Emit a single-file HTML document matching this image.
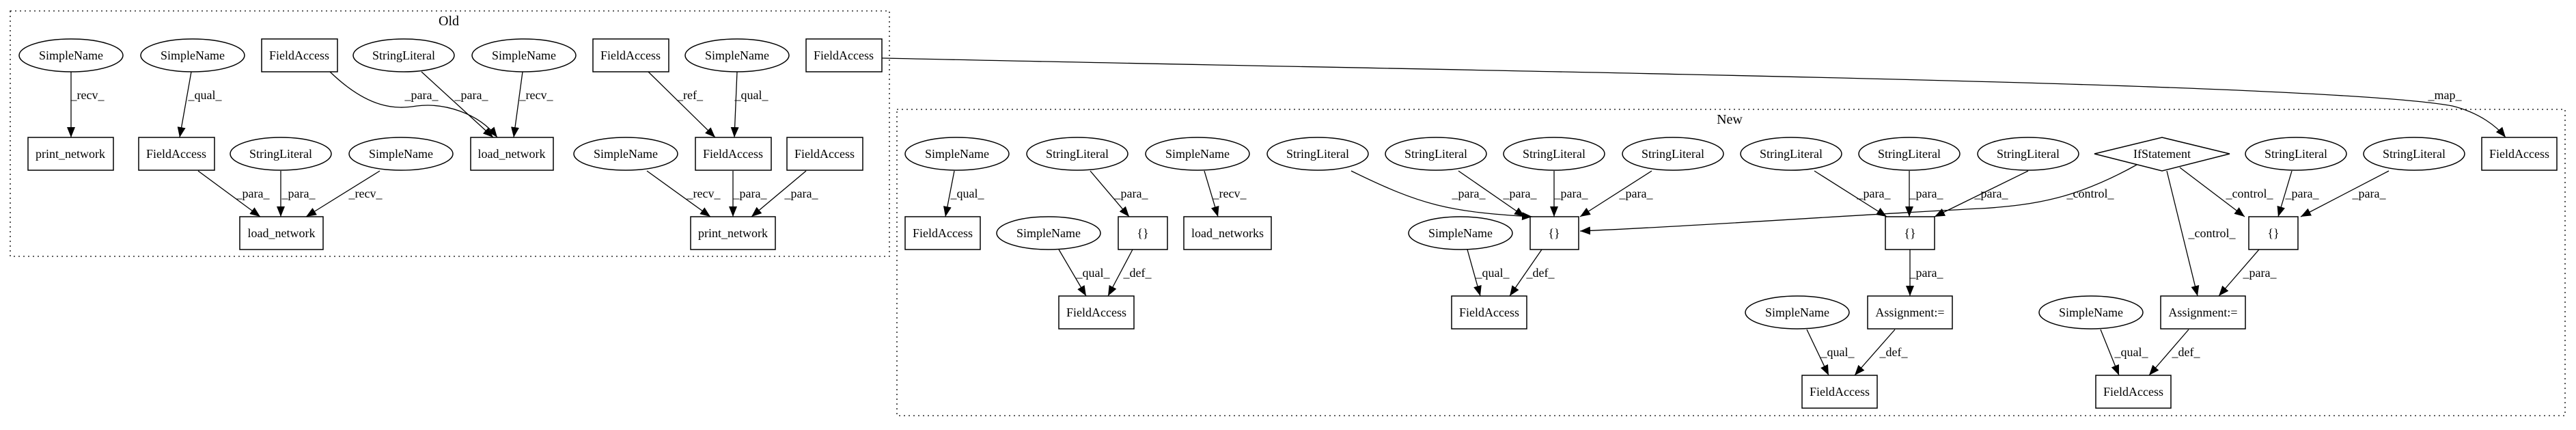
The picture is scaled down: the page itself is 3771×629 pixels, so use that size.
<!DOCTYPE html>
<html><head><meta charset="utf-8"><style>
html,body{margin:0;padding:0;background:#fff}
svg text{font-family:"Liberation Serif",serif;font-size:18px;fill:#000}
</style></head><body>
<svg width="3771" height="624" viewBox="0 0 3771 624" xmlns="http://www.w3.org/2000/svg">
<defs><marker id="a" markerUnits="userSpaceOnUse" markerWidth="16" markerHeight="12" refX="15" refY="6" orient="auto"><path d="M0,0 L15,6 L0,12 z" fill="#000"/></marker></defs>
<g fill="none" stroke="#000" stroke-width="1.3" stroke-dasharray="2,5">
<rect x="15" y="16" width="1287" height="359"/>
<rect x="1313" y="160" width="2442" height="448"/>
</g>
<g font-size="20"><text x="657" y="37" text-anchor="middle" style="font-size:20px">Old</text><text x="2532" y="181" text-anchor="middle" style="font-size:20px">New</text></g>
<g fill="#fff" stroke="#000" stroke-width="1.5">
<!-- old row1 -->
<ellipse cx="104" cy="81" rx="76" ry="24"/><ellipse cx="282" cy="81" rx="76" ry="24"/>
<rect x="383" y="57" width="111" height="48"/>
<ellipse cx="591" cy="81" rx="74" ry="24"/><ellipse cx="767" cy="81" rx="76" ry="24"/>
<rect x="868" y="57" width="111" height="48"/>
<ellipse cx="1079" cy="81" rx="76" ry="24"/>
<rect x="1180" y="57" width="111" height="48"/>
<!-- old row2 -->
<rect x="41" y="201" width="125" height="48"/><rect x="203" y="201" width="111" height="48"/>
<ellipse cx="411" cy="225" rx="74" ry="24"/><ellipse cx="587" cy="225" rx="76" ry="24"/>
<rect x="689" y="201" width="121" height="48"/>
<ellipse cx="916" cy="225" rx="76" ry="24"/>
<rect x="1018" y="201" width="111" height="48"/><rect x="1152" y="201" width="111" height="48"/>
<rect x="351" y="317" width="122" height="48"/><rect x="1011" y="317" width="124" height="48"/>
<!-- new row2 -->
<ellipse cx="1401" cy="225" rx="76" ry="24"/><ellipse cx="1577" cy="225" rx="74" ry="24"/>
<ellipse cx="1753" cy="225" rx="76" ry="24"/><ellipse cx="1929" cy="225" rx="74" ry="24"/>
<ellipse cx="2102" cy="225" rx="74" ry="24"/><ellipse cx="2275" cy="225" rx="74" ry="24"/>
<ellipse cx="2449" cy="225" rx="74" ry="24"/><ellipse cx="2622" cy="225" rx="74" ry="24"/>
<ellipse cx="2795" cy="225" rx="74" ry="24"/><ellipse cx="2969" cy="225" rx="74" ry="24"/>
<polygon points="3066,225 3165,201 3264,225 3165,250"/>
<ellipse cx="3361" cy="225" rx="74" ry="24"/><ellipse cx="3534" cy="225" rx="74" ry="24"/>
<rect x="3633" y="201" width="110" height="48"/>
<!-- new row3 -->
<rect x="1325" y="317" width="110" height="48"/><ellipse cx="1535" cy="341" rx="76" ry="24"/>
<rect x="1637" y="317" width="72" height="48"/><rect x="1733" y="317" width="128" height="48"/>
<ellipse cx="2138" cy="341" rx="76" ry="24"/><rect x="2240" y="317" width="71" height="48"/>
<rect x="2760" y="317" width="72" height="48"/><rect x="3292" y="317" width="72" height="48"/>
<!-- row4 -->
<rect x="1550" y="433" width="110" height="48"/><rect x="2125" y="433" width="110" height="48"/>
<ellipse cx="2631" cy="457" rx="76" ry="24"/><rect x="2734" y="433" width="124" height="48"/>
<ellipse cx="3061" cy="457" rx="76" ry="24"/><rect x="3163" y="433" width="124" height="48"/>
<!-- row5 -->
<rect x="2638" y="549" width="110" height="48"/><rect x="3068" y="549" width="110" height="48"/>
</g>
<g text-anchor="middle">
<text x="104" y="87">SimpleName</text><text x="282" y="87">SimpleName</text><text x="438" y="87">FieldAccess</text>
<text x="591" y="87">StringLiteral</text><text x="767" y="87">SimpleName</text><text x="923" y="87">FieldAccess</text>
<text x="1079" y="87">SimpleName</text><text x="1235" y="87">FieldAccess</text>
<text x="103" y="231">print_network</text><text x="258" y="231">FieldAccess</text><text x="411" y="231">StringLiteral</text>
<text x="587" y="231">SimpleName</text><text x="749" y="231">load_network</text><text x="916" y="231">SimpleName</text>
<text x="1073" y="231">FieldAccess</text><text x="1207" y="231">FieldAccess</text>
<text x="412" y="347">load_network</text><text x="1073" y="347">print_network</text>
<text x="1401" y="231">SimpleName</text><text x="1577" y="231">StringLiteral</text><text x="1753" y="231">SimpleName</text>
<text x="1929" y="231">StringLiteral</text><text x="2102" y="231">StringLiteral</text><text x="2275" y="231">StringLiteral</text>
<text x="2449" y="231">StringLiteral</text><text x="2622" y="231">StringLiteral</text><text x="2795" y="231">StringLiteral</text>
<text x="2969" y="231">StringLiteral</text><text x="3165" y="231">IfStatement</text><text x="3361" y="231">StringLiteral</text>
<text x="3534" y="231">StringLiteral</text><text x="3688" y="231">FieldAccess</text>
<text x="1380" y="347">FieldAccess</text><text x="1535" y="347">SimpleName</text><text x="1673" y="347">{}</text>
<text x="1797" y="347">load_networks</text><text x="2138" y="347">SimpleName</text><text x="2275" y="347">{}</text>
<text x="2796" y="347">{}</text><text x="3328" y="347">{}</text>
<text x="1605" y="463">FieldAccess</text><text x="2180" y="463">FieldAccess</text><text x="2631" y="463">SimpleName</text>
<text x="2796" y="463">Assignment:=</text><text x="3061" y="463">SimpleName</text><text x="3225" y="463">Assignment:=</text>
<text x="2693" y="579">FieldAccess</text><text x="3123" y="579">FieldAccess</text>
</g>
<g fill="none" stroke="#000" stroke-width="1.3" marker-end="url(#a)">
<path d="M104,105 L104,201"/><path d="M280,105 L263,201"/>
<path d="M483,105 C540,160 580,160 610,155 C650,150 700,165 728,201"/>
<path d="M617,105 L722,201"/><path d="M765,105 L752,201"/>
<path d="M949,105 L1047,201"/><path d="M1079,105 L1075,201"/>
<path d="M290,250 L381,317"/><path d="M411,250 L411,317"/><path d="M556,250 L448,317"/>
<path d="M947,250 L1040,317"/><path d="M1073,250 L1073,317"/><path d="M1180,250 L1100,317"/>
<path d="M1291,85 C2200,105 3400,120 3590,155 C3630,165 3655,185 3668,201"/>
<path d="M1397,250 L1384,317"/><path d="M1596,250 L1653,317"/><path d="M1763,250 L1783,317"/>
<path d="M1550,365 L1590,433"/><path d="M1658,365 L1622,433"/>
<path d="M1978,250 C2080,300 2120,310 2243,317"/>
<path d="M2135,250 L2232,317"/><path d="M2275,250 L2275,317"/><path d="M2418,250 L2313,317"/>
<path d="M3128,241 C3040,290 2980,300 2900,305 C2700,315 2500,330 2313,338"/>
<path d="M2148,365 L2167,433"/><path d="M2257,365 L2210,433"/>
<path d="M2656,250 L2762,317"/><path d="M2795,250 L2795,317"/><path d="M2969,250 L2832,317"/>
<path d="M2796,365 L2796,433"/>
<path d="M3191,245 L3286,317"/><path d="M3172,250 L3217,433"/>
<path d="M3355,250 L3335,317"/><path d="M3497,250 L3368,317"/>
<path d="M3307,365 L3248,433"/>
<path d="M2645,482 L2677,549"/><path d="M2774,482 L2715,549"/>
<path d="M3075,482 L3102,549"/><path d="M3204,482 L3146,549"/>
</g>
<g text-anchor="middle">
<text x="128" y="145">_recv_</text><text x="300" y="145">_qual_</text><text x="617" y="145">_para_</text>
<text x="690" y="145">_para_</text><text x="785" y="145">_recv_</text><text x="1010" y="145">_ref_</text>
<text x="1100" y="145">_qual_</text>
<text x="370" y="289">_para_</text><text x="437" y="289">_para_</text><text x="535" y="289">_recv_</text>
<text x="1030" y="289">_recv_</text><text x="1098" y="289">_para_</text><text x="1173" y="289">_para_</text>
<text x="3579" y="145">_map_</text>
<text x="1416" y="289">_qual_</text><text x="1656" y="289">_para_</text><text x="1800" y="289">_recv_</text>
<text x="1600" y="405">_qual_</text><text x="1665" y="405">_def_</text>
<text x="2150" y="289">_para_</text><text x="2225" y="289">_para_</text><text x="2300" y="289">_para_</text><text x="2395" y="289">_para_</text>
<text x="3060" y="289">_control_</text>
<text x="2185" y="405">_qual_</text><text x="2255" y="405">_def_</text>
<text x="2743" y="289">_para_</text><text x="2820" y="289">_para_</text><text x="2915" y="289">_para_</text>
<text x="2820" y="405">_para_</text>
<text x="3293" y="289">_control_</text><text x="3238" y="347">_control_</text>
<text x="3370" y="289">_para_</text><text x="3468" y="289">_para_</text>
<text x="3308" y="405">_para_</text>
<text x="2690" y="521">_qual_</text><text x="2772" y="521">_def_</text>
<text x="3120" y="521">_qual_</text><text x="3200" y="521">_def_</text>
</g>
</svg>
</body></html>
